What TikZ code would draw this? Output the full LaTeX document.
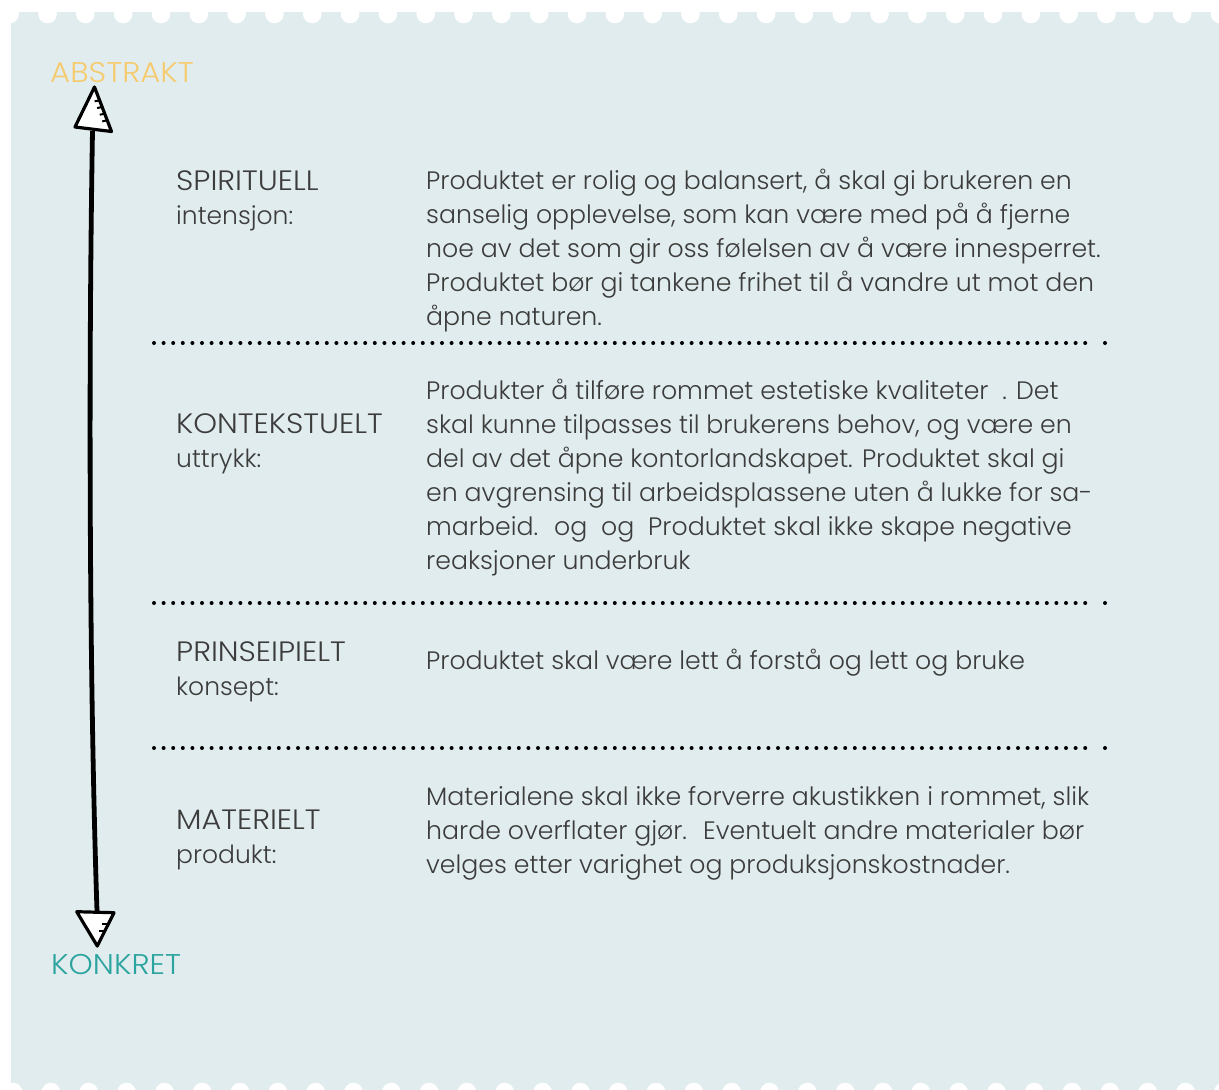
\documentclass[tikz,border=0pt]{standalone}
\usepackage{fontspec}
\setmainfont{Poppins}[UprightFont=* Light]
\newfontfamily\widefont{Poppins}[UprightFont=* Light, FakeStretch=1.08]
\usepackage{tikz}
\tikzset{>=latex}
\usetikzlibrary{calc}
\definecolor{panel blue}{HTML}{E1ECEE}
\definecolor{abstract yellow}{HTML}{F6CB6E}
\definecolor{concrete teal}{HTML}{2BA39F}
\definecolor{text grey}{HTML}{3C3C3C}
\newcommand{\capsline}[1]{{\widefont\fontsize{28}{33.5}\selectfont #1}}
\tikzset{
    level label/.style={anchor=base west, inner sep=0pt, align=left, text=text grey, font=\fontsize{25}{33.5}\selectfont},
    level text/.style={level label, font=\fontsize{25.2}{34}\selectfont},
    end label/.style={anchor=base west, inner sep=0pt, font=\widefont\fontsize{28.5}{34}\selectfont},
    arrow head/.style={fill=white, draw=black, line width=3.2pt, line join=round},
}

\begin{document}
\begin{tikzpicture}[x=1pt, y=-1pt]
        \useasboundingbox (0,0) rectangle (1219,1090);
        \fill[panel blue] (11,12) rectangle (1219,1090);
        \foreach \i in {0,...,32} {
            \fill[white] (9.7+37.82*\i, 14) circle (9.3);
            \fill[white] (13.1+37.82*\i, 1092) circle (9.3);
        }
        \node[end label, text=abstract yellow] (abstrakt) at (50,82) {ABSTRAKT};
        \node[end label, text=concrete teal] (konkret) at (51,974) {KONKRET};
        \coordinate (pil topp) at (92.5,131);
        \coordinate (pil bunn) at (97,911);
        \draw[line width=4.8pt] (pil topp) .. controls (88,400) and (90,700) .. (pil bunn);
        \coordinate (topp spiss) at ($(pil topp)+(2,-44)$);
        \coordinate (topp venstre) at ($(pil topp)+(-17.5,-4)$);
        \coordinate (topp hoyre) at ($(pil topp)+(19,0.5)$);
        \filldraw[arrow head] (topp spiss) -- (topp venstre) -- (topp hoyre) -- cycle;
        \foreach \t in {0.3, 0.45, 0.6, 0.75} {
            \draw[line width=2pt] ($(topp spiss)!\t!(topp hoyre)$) -- ++(-5,1);
        }
        \coordinate (bunn spiss) at ($(pil bunn)+(0.3,35)$);
        \coordinate (bunn venstre) at ($(pil bunn)+(-20.3,0.7)$);
        \coordinate (bunn hoyre) at ($(pil bunn)+(17,1.7)$);
        \filldraw[arrow head] (bunn spiss) -- (bunn venstre) -- (bunn hoyre) -- cycle;
        \foreach \t in {0.35, 0.55} {
            \draw[line width=2pt] ($(bunn hoyre)!\t!(bunn spiss)$) -- ++(-6,0);
        }
        \foreach \y in {343, 603, 748} {
            \foreach \x in {154, 163.6, ..., 1094} {
                \fill (\x,\y) circle (2);
            }
            \fill (1105,\y) circle (2);
        }
        \node[level label] (spirituell) at (176,224) {\capsline{SPIRITUELL}\\intensjon:};
        \node[level text] (spirituell tekst) at (426,325) {Produktet er rolig og balansert, å skal gi brukeren en\\sanselig opplevelse, som kan være med på å fjerne\\noe av det som gir oss følelsen av å være innesperret.\\Produktet bør gi tankene frihet til å vandre ut mot den\\åpne naturen.};
        \node[level label] (kontekstuelt) at (176,467) {\capsline{KONTEKSTUELT}\\uttrykk:};
        \node[level text] (kontekstuelt tekst) at (426,569) {Produkter å tilføre rommet estetiske kvaliteter~~. Det\\skal kunne tilpasses til brukerens behov, og være en\\del av det åpne kontorlandskapet. Produktet skal gi\\en avgrensing til arbeidsplassene uten å lukke for sa-\\marbeid.~ og~ og~ Produktet skal ikke skape negative\\reaksjoner underbruk};
        \node[level label] (prinseipielt) at (176,695) {\capsline{PRINSEIPIELT}\\konsept:};
        \node[level text] (prinseipielt tekst) at (426,669) {Produktet skal være lett å forstå og lett og bruke};
        \node[level label] (materielt) at (176,863) {\capsline{MATERIELT}\\produkt:};
        \node[level text] (materielt tekst) at (426,873) {Materialene skal ikke forverre akustikken i rommet, slik\\harde overflater gjør.~ Eventuelt andre materialer bør\\velges etter varighet og produksjonskostnader.};
    \end{tikzpicture}
\end{document}
